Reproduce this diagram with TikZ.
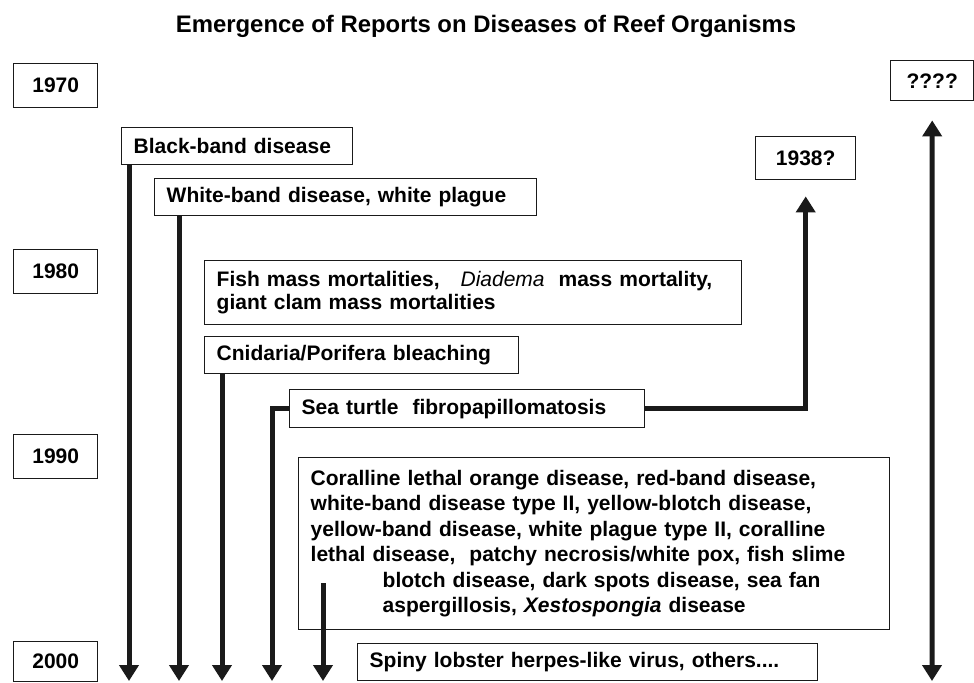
\documentclass[tikz,border=0pt]{standalone}
\usepackage{fontspec}
\setmainfont{Liberation Sans}
\usetikzlibrary{arrows.meta,calc}
\definecolor{rdark}{HTML}{1A1A1A}

\tikzset{
  yearbox/.style={draw=rdark, line width=0.7pt, anchor=north west,
    minimum width=42pt, minimum height=22pt, inner sep=0pt},
  eventbox/.style={draw=rdark, line width=0.7pt, anchor=north west,
    align=left, inner xsep=6pt, inner ysep=0pt},
  flow/.style={rdark, line width=2.5pt, -{Triangle[length=8pt,width=9.5pt]}},
}

\begin{document}
\begin{tikzpicture}[x=0.5pt, y=-0.5pt, font={\fontsize{10.5}{12.7}\selectfont\bfseries}]
  \useasboundingbox (0,0) rectangle (974,682);

  \node[anchor=base, font={\fontsize{11.95}{14}\selectfont\bfseries}] (title) at (486,32)
     {Emergence of Reports on Diseases of Reef Organisms};

  % decades down the left margin
  \node[yearbox] (y1970) at (13,63) {1970};
  \node[yearbox] (y1980) at (13,249) {1980};
  \node[yearbox] (y1990) at (13,434) {1990};
  \node[yearbox, minimum height=20pt] (y2000) at (13,641) {2000};

  % first reports, in order of appearance
  \node[eventbox, text width=103.5pt, minimum height=18.5pt] (bb) at (121,127)
     {Black-band disease};
  \node[eventbox, text width=179pt, minimum height=18.5pt] (wb) at (154,178)
     {White-band disease, white plague};
  \node[eventbox, text width=256.5pt, minimum height=32pt,
        font={\fontsize{10.5}{11.5}\selectfont\bfseries}] (fish) at (204,260)
     {Fish mass mortalities, \ \ \textmd{\textit{Diadema}} \ mass mortality,\\
      giant clam mass mortalities};
  \node[eventbox, text width=145pt, minimum height=18.5pt] (cnid) at (204,336)
     {Cnidaria/Porifera bleaching};
  \node[eventbox, text width=165.5pt, minimum height=19pt] (turtle) at (289,389)
     {Sea turtle \ fibropapillomatosis};
  \node[eventbox, text width=283.5pt, minimum height=86pt] (coral) at (298,457)
     {Coralline lethal orange disease, red-band disease,\\
      white-band disease type II, yellow-blotch disease,\\
      yellow-band disease, white plague type II, coralline\\
      lethal disease, \ patchy necrosis/white pox, fish slime\\
      \hspace*{36pt}blotch disease, dark spots disease, sea fan\\
      \hspace*{36pt}aspergillosis, \textit{Xestospongia} disease};
  \node[eventbox, text width=218pt, minimum height=18.5pt] (spiny) at (357,643)
     {Spiny lobster herpes-like virus, others....};

  % earlier or unknown origins
  \node[yearbox, minimum width=50pt, minimum height=21.5pt] (y1938) at (755,136) {1938?};
  \node[yearbox, minimum width=41.5pt, minimum height=20pt] (yq) at (890,60) {????};

  % free ends of the timelines at year 2000
  \foreach \name/\x in {e1/129, e2/179, e3/222, e4/272, e5/323, e6/932}
    \coordinate (\name) at (\x,681);
  \coordinate (cstart) at (323,583);

  \draw[flow] (e1 |- bb.south) -- (e1);
  \draw[flow] (e2 |- wb.south) -- (e2);
  \draw[flow] (e3 |- cnid.south) -- (e3);
  \draw[flow] (turtle.west) -| (e4);
  \draw[flow] (cstart) -- (e5);
  \draw[flow] (turtle.east) -| ([yshift=-8pt]y1938.south);
  \draw[flow, {Triangle[length=8pt,width=9.5pt]}-{Triangle[length=8pt,width=9.5pt]}]
     ([yshift=-9.5pt]yq.south) -- (e6);
\end{tikzpicture}
\end{document}
